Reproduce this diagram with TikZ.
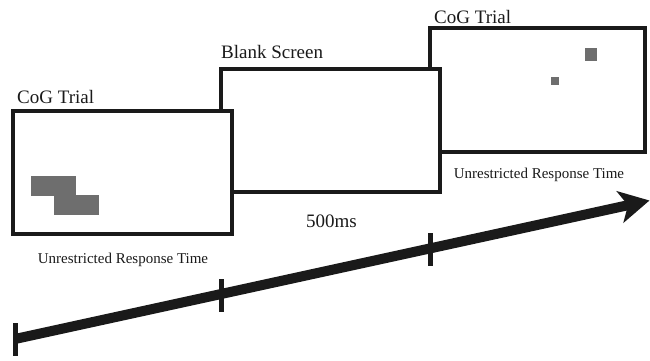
\documentclass[tikz,border=0pt]{standalone}
\usepackage{fontspec}
\setmainfont{Liberation Serif}
\usetikzlibrary{arrows.meta}
\definecolor{stim}{HTML}{6E6E6E}
\definecolor{ink}{HTML}{1A1A1A}
\begin{document}
\begin{tikzpicture}[x=1pt,y=-1pt,
  screen/.style={draw=ink, fill=white, line width=3.1pt, rectangle, inner sep=0pt,
    minimum width=219pt, minimum height=123pt},
  title/.style={anchor=base west, inner sep=0pt, text=ink, font=\fontsize{19}{22}\selectfont},
  caption/.style={anchor=base, inner sep=0pt, text=ink, font=\fontsize{15}{18}\selectfont},
  ticknode/.style={fill=ink, rectangle, inner sep=0pt, minimum width=5pt, minimum height=33pt},
  shaft/.style={draw=ink, line width=10pt, -{Stealth[length=30pt,width=32pt,inset=8pt]}}
]
\useasboundingbox (0,0) rectangle (650,360);
% screens (back to front)
\node[screen, minimum width=215pt, minimum height=124pt] (s3) at (537.5,90) {};
\node[screen] (s2) at (330.5,130.5) {};
\node[screen] (s1) at (122.5,172.5) {};
% stimuli
\fill[stim] (31,176) rectangle (76,195.5);
\fill[stim] (54,195) rectangle (99,215);
\fill[stim] (585,48) rectangle (597,61);
\fill[stim] (551,77) rectangle (559,85);
% titles
\node[title] (t1) at (17,103) {CoG Trial};
\node[title] (t2) at (221,58) {Blank Screen};
\node[title] (t3) at (434,23) {CoG Trial};
% captions
\node[caption] (c1) at (123,263) {Unrestricted Response Time};
\node[caption, font=\fontsize{19}{22}\selectfont] (c2) at (331.5,227) {500ms};
\node[caption] (c3) at (539,178) {Unrestricted Response Time};
% timeline
\node[ticknode] (k1) at (15,339) {};
\node[ticknode] (k2) at (221.5,295.5) {};
\node[ticknode] (k3) at (430.5,249) {};
\coordinate (tip) at (649.5,200.5);
\draw[shaft] (k1.center) -- (tip);
\end{tikzpicture}
\end{document}
